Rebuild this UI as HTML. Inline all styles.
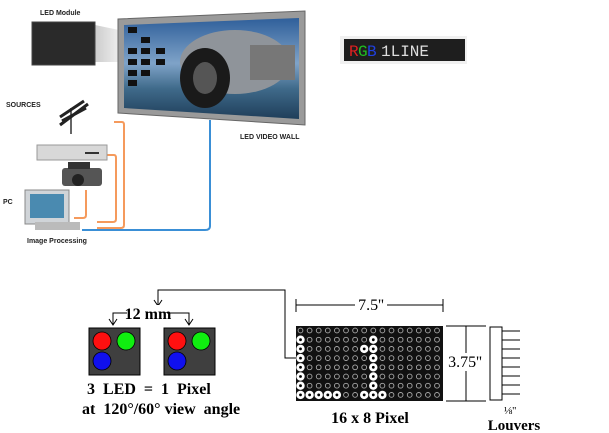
<!DOCTYPE html>
<html><head><style>
html,body{margin:0;padding:0;background:#fff;}
body{width:609px;height:433px;overflow:hidden;position:relative;}
svg{position:absolute;left:0;top:0;}
.l{font-family:"Liberation Sans",sans-serif;font-weight:bold;font-size:7px;fill:#222;}
.s{font-family:"Liberation Serif",serif;font-weight:bold;fill:#000;}
</style></head><body>
<svg width="609" height="433" viewBox="0 0 609 433">
<defs>
<linearGradient id="sky" x1="0" y1="0" x2="0" y2="1">
<stop offset="0" stop-color="#2f5f9a"/><stop offset="0.45" stop-color="#7fa3c8"/><stop offset="0.7" stop-color="#3f6a8a"/><stop offset="1" stop-color="#1f3e5a"/>
</linearGradient>
<linearGradient id="beam" x1="0" y1="0" x2="1" y2="0">
<stop offset="0" stop-color="#ccc"/><stop offset="1" stop-color="#eee"/>
</linearGradient>
</defs>
<text class="l" x="40" y="15">LED Module</text>
<text class="l" x="6" y="107">SOURCES</text>
<text class="l" x="240" y="139">LED VIDEO WALL</text>
<text class="l" x="3" y="204">PC</text>
<text class="l" x="27" y="243">Image Processing</text>
<polygon points="95,25 119,30 119,62 95,62" fill="url(#beam)"/>
<rect x="32" y="22" width="63" height="43" fill="#2a2a2a"/>
<rect x="32" y="22" width="63" height="43" fill="none" stroke="#444"/>
<polygon points="118,19 305,11 305,125 118,113" fill="#9a9a9a" stroke="#666"/>
<polygon points="124,25 299,18 299,119 124,108" fill="url(#sky)"/>
<ellipse cx="235" cy="62" rx="55" ry="32" fill="#8f949a"/>
<ellipse cx="205" cy="78" rx="25" ry="30" fill="#1a1a1a"/>
<ellipse cx="205" cy="78" rx="12" ry="16" fill="#555"/>
<rect x="250" y="45" width="45" height="35" fill="#777"/>
<g fill="#111">
<rect x="128" y="27" width="9" height="6"/><rect x="141" y="37" width="9" height="6"/>
<rect x="128" y="48" width="9" height="6"/><rect x="141" y="48" width="9" height="6"/><rect x="156" y="48" width="9" height="6"/>
<rect x="128" y="59" width="9" height="6"/><rect x="141" y="59" width="9" height="6"/><rect x="156" y="59" width="9" height="6"/>
<rect x="128" y="70" width="9" height="6"/><rect x="141" y="70" width="9" height="6"/>
<rect x="128" y="80" width="9" height="6"/>
</g>
<path d="M114,122 H122 Q124,122 124,125 V225 Q124,228 121,228 H97" fill="none" stroke="#f59a5c" stroke-width="2"/>
<path d="M106,155 H114 Q116,155 116,158 V219 Q116,222 113,222 H97" fill="none" stroke="#f59a5c" stroke-width="2"/>
<path d="M86,190 V215 Q86,218 83,218 H74" fill="none" stroke="#f59a5c" stroke-width="2"/>
<path d="M210,120 V226 Q210,230 205,230 H82" fill="none" stroke="#3a8fd6" stroke-width="2"/>
<line x1="71" y1="108" x2="71" y2="134" stroke="#333" stroke-width="1.5"/>
<path d="M60,125 L88,104 M62,121 L86,108 M60,117 L84,101" stroke="#222" stroke-width="3" fill="none"/>
<rect x="37" y="145" width="70" height="15" fill="#d8d8d8" stroke="#999"/>
<rect x="85" y="152" width="14" height="2" fill="#333"/>
<rect x="62" y="168" width="40" height="18" fill="#555" rx="3"/>
<rect x="68" y="162" width="22" height="7" fill="#333"/>
<circle cx="78" cy="180" r="6" fill="#222"/>
<rect x="25" y="190" width="44" height="34" fill="#d0d4d8" stroke="#888"/>
<rect x="30" y="194" width="34" height="24" fill="#4a8ab0"/>
<rect x="35" y="222" width="45" height="8" fill="#bbb"/>
<rect x="340" y="36" width="127" height="28" fill="#f0f0f0"/>
<rect x="344" y="39" width="121" height="22" fill="#1e1e1e"/>
<text x="349" y="56" font-family="Liberation Mono,monospace" font-size="16" fill="#e02020">R</text>
<text x="358" y="56" font-family="Liberation Mono,monospace" font-size="16" fill="#20c020">G</text>
<text x="367" y="56" font-family="Liberation Mono,monospace" font-size="16" fill="#2040e0">B</text>
<text x="381" y="56" font-family="Liberation Mono,monospace" font-size="16" fill="#ddd">1LINE</text>
<g stroke="#000" stroke-width="1" fill="none">
<path d="M158,305 V290 H285 V358 H296"/>
<path d="M154,300 L158,306 L162,300"/>
<path d="M127,313 H113 V324"/><path d="M109,319 L113,325 L117,319"/>
<path d="M167,313 H189 V324"/><path d="M185,319 L189,325 L193,319"/>
</g>
<rect x="127" y="305" width="40" height="16" fill="#fff"/>
<text class="s" x="148" y="319" font-size="16" text-anchor="middle">12 mm</text>
<rect x="89" y="328" width="51" height="47" fill="#3f3f3f" stroke="#000"/>
<rect x="164" y="328" width="51" height="47" fill="#3f3f3f" stroke="#000"/>
<g stroke="#000" stroke-width="0.8">
<circle cx="102" cy="341" r="9" fill="#ff1010"/><circle cx="126" cy="341" r="9" fill="#10ee10"/><circle cx="102" cy="361" r="9" fill="#1010ee"/>
<circle cx="177" cy="341" r="9" fill="#ff1010"/><circle cx="201" cy="341" r="9" fill="#10ee10"/><circle cx="177" cy="361" r="9" fill="#1010ee"/>
</g>
<text class="s" x="87" y="394" font-size="16" xml:space="preserve">3  LED  =  1  Pixel</text>
<text class="s" x="82" y="414" font-size="16" xml:space="preserve">at  120°/60° view  angle</text>
<g stroke="#000" fill="none">
<path d="M296,305 H443 M296,299 V312 M443,299 V312"/>
<path d="M446,326 H486 M446,401 H486 M466,326 V401"/>
</g>
<rect x="355" y="297" width="32" height="16" fill="#fff"/>
<text x="371" y="310" class="s" font-size="16" text-anchor="middle" style="font-weight:normal">7.5''</text>
<rect x="449" y="353" width="32" height="18" fill="#fff"/>
<text x="465" y="367" class="s" font-size="16" text-anchor="middle" style="font-weight:normal">3.75''</text>
<rect x="296" y="326" width="147" height="75" fill="#111"/>
<g id="grid"></g>
<rect x="490" y="327" width="12" height="73" fill="#fff" stroke="#000"/>
<g stroke="#000">
<line x1="502" y1="331" x2="520" y2="331"/><line x1="502" y1="340" x2="520" y2="340"/><line x1="502" y1="349" x2="520" y2="349"/><line x1="502" y1="358" x2="520" y2="358"/><line x1="502" y1="367" x2="520" y2="367"/><line x1="502" y1="376" x2="520" y2="376"/><line x1="502" y1="385" x2="520" y2="385"/><line x1="502" y1="394" x2="520" y2="394"/>
</g>
<text class="s" x="370" y="423" font-size="16" text-anchor="middle">16 x 8 Pixel</text>
<text x="504" y="414" font-family="Liberation Serif,serif" font-size="11">⅛''</text>
<text class="s" x="514" y="430" font-size="15" text-anchor="middle">Louvers</text>
</svg>
<script>
(function(){
var g=document.getElementById('grid'),h='';
var on={};
for(var r=1;r<8;r++){on['0,'+r]=1;on['8,'+r]=1;}
for(var c=0;c<5;c++)on[c+',7']=1;
on['7,2']=1;on['7,7']=1;on['9,7']=1;
for(var r=0;r<8;r++)for(var c=0;c<16;c++){
var x=300.5+c*9.1,y=330.5+r*9.2;
if(on[c+','+r]) h+='<circle cx="'+x+'" cy="'+y+'" r="4.2" fill="#fff"/><circle cx="'+x+'" cy="'+y+'" r="1.4" fill="#000"/>';
else h+='<circle cx="'+x+'" cy="'+y+'" r="2.4" fill="none" stroke="#aaa" stroke-width="0.9"/>';
}
g.innerHTML=h;
})();
</script>
</body></html>
